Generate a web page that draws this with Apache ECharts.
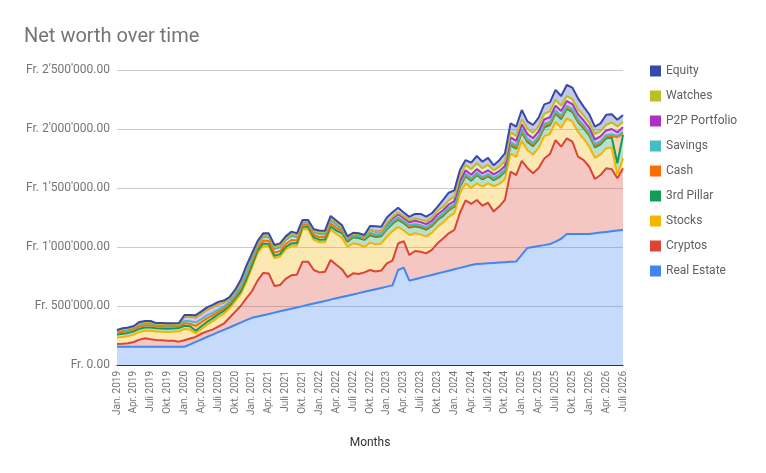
<!DOCTYPE html>
<html>
<head>
<meta charset="utf-8">
<title>Net worth over time</title>
<script src="https://cdn.jsdelivr.net/npm/echarts@6/dist/echarts.min.js"></script>
<style>
  html, body { margin: 0; padding: 0; background: #fff; }
  #chart { width: 766px; height: 473px; }
</style>
</head>
<body>
<div id="chart"></div>
<script>
// values in thousand CHF, one per month from Jan. 2019 to Juli 2026
var monthNames = ["Jan.", "Feb.", "März", "Apr.", "Mai", "Juni", "Juli", "Aug.", "Sept.", "Okt.", "Nov.", "Dez."];
var firstYear = 2019;
var monthCount = 91;

var realEstate = [
  155,155,155,155,155,155,155,155,155,155,155,155,
  155,175,196,216,237,257,278,298,318,339,359,380,
  400,411,422,433,444,455,466,477,488,499,510,521,
  532,543,554,565,576,587,598,609,620,631,642,653,
  664,675,805,825,715,727,739,751,763,775,787,799,
  811,823,835,847,856,859,862,865,868,871,874,877,
  935,992,1000,1008,1016,1025,1045,1070,1110,1110,1110,1110,
  1110,1116,1122,1128,1134,1140,1144
];
var cryptos = [
  23,25,29,40,60,71,63,57,55,51,50,43,
  55,50,42,49,48,43,47,52,82,111,141,185,
  225,304,358,342,226,223,264,283,277,377,366,284,
  253,247,336,285,236,158,179,162,165,174,150,147,
  198,210,225,225,217,239,221,195,212,256,286,317,
  333,467,560,518,542,491,513,435,477,529,764,733,
  795,678,625,662,734,763,860,780,811,783,655,627,
  570,460,488,539,526,442,523
];
var stocks = [
  54,58,61,63,65,64,72,72,72,74,77,87,
  95,75,30,40,55,70,80,85,80,90,100,140,
  200,235,230,230,235,242,250,250,245,274,274,255,
  255,250,260,260,268,255,255,250,215,232,230,230,
  225,250,140,90,170,150,145,144,145,140,135,140,
  141,165,145,135,142,161,165,215,190,175,154,155,
  170,150,160,170,190,170,155,160,169,169,210,180,
  170,180,175,169,183,28,84
];
var thirdPillar = [
  27,27,27,27,28,28,28,28,28,28,28,28,
  28,28,22,24,25,25,25,24,22,22,22,22,
  22,20,20,20,20,20,20,21,21,22,22,22,
  22,23,24,30,38,45,50,55,60,62,62,62,
  62,62,62,62,62,60,60,58,58,58,56,56,
  56,56,60,62,70,62,60,51,58,62,70,68,
  72,70,70,72,75,75,71,75,80,82,84,88,
  95,88,85,85,85,100,198
];
var cash = [
  14,15,15,15,18,18,18,15,16,16,15,15,
  20,22,42,35,30,25,20,18,16,16,25,30,
  30,25,25,26,26,26,25,28,24,18,18,20,
  22,22,24,22,18,12,10,10,10,12,12,10,
  10,10,10,10,10,10,10,10,10,10,10,10,
  10,10,10,10,10,10,10,10,10,10,12,12,
  12,12,12,12,12,12,12,12,12,12,12,12,
  12,12,12,12,12,220,12
];
var savings = [
  8,12,12,11,20,18,18,10,11,11,10,9,
  20,20,28,25,25,22,20,18,15,15,18,20,
  20,28,30,32,32,32,32,34,30,18,18,22,
  25,24,28,25,18,10,8,8,8,10,10,8,
  10,10,10,10,10,10,10,10,10,10,10,10,
  10,10,10,10,10,10,10,10,10,10,15,15,
  15,15,15,15,15,15,15,15,15,15,15,15,
  15,15,15,15,15,12,15
];
var p2p = [
  8,9,9,9,9,9,9,9,9,9,9,9,
  40,42,42,45,48,48,45,35,28,28,40,45,
  30,10,12,12,12,12,12,14,12,10,10,12,
  14,13,18,18,16,12,12,12,14,24,25,22,
  25,26,26,25,26,26,26,26,26,27,27,28,
  28,28,30,30,30,30,30,30,30,30,40,40,
  40,40,40,40,40,40,40,40,40,40,40,40,
  40,40,40,40,45,30,40
];
var watches = [
  0,0,0,0,0,0,0,0,0,0,0,0,
  0,0,0,0,0,0,0,0,0,0,0,0,
  0,0,0,0,0,0,0,0,0,0,0,0,
  0,0,0,0,0,0,0,0,0,0,0,0,
  10,12,14,15,17,19,21,23,26,29,32,35,
  38,42,45,48,50,45,45,34,38,40,42,42,
  44,45,45,46,48,50,50,46,42,42,43,43,
  43,45,45,48,55,50,45
];
var equity = [
  8,10,10,10,10,10,10,9,9,9,9,9,
  11,12,20,20,20,20,20,16,14,15,15,18,
  18,17,19,21,22,21,21,23,19,11,11,14,
  17,16,19,20,16,11,9,10,10,33,44,40,
  46,40,41,30,28,39,48,40,36,35,57,65,
  53,52,42,55,61,55,60,42,55,67,77,78,
  78,63,67,71,79,76,83,82,94,97,91,75,
  70,64,66,84,70,56,58
];

var months = [];
for (var m = 0; m < monthCount; m++) {
  months.push(monthNames[m % 12] + " " + (firstYear + Math.floor(m / 12)));
}

// thousands -> "Fr. 2'500'000.00"
function chf(v) {
  var s = String(Math.round(v * 1000)).replace(/\B(?=(\d{3})+(?!\d))/g, "'");
  return "Fr. " + s + ".00";
}

var layers = [
  ["Real Estate", realEstate, "#4285f4"],
  ["Cryptos", cryptos, "#db4437"],
  ["Stocks", stocks, "#f4b400"],
  ["3rd Pillar", thirdPillar, "#0f9d58"],
  ["Cash", cash, "#ff6d01"],
  ["Savings", savings, "#46bdc6"],
  ["P2P Portfolio", p2p, "#ab30c4"],
  ["Watches", watches, "#bdbd24"],
  ["Equity", equity, "#3949ab"]
];

var series = [];
var legendNames = [];
for (var i = 0; i < layers.length; i++) {
  series.push({
    name: layers[i][0],
    type: "line",
    stack: "total",
    data: layers[i][1],
    symbol: "none",
    itemStyle: { color: layers[i][2] },
    lineStyle: { width: 2, color: layers[i][2] },
    areaStyle: { color: layers[i][2], opacity: 0.3 },
    emphasis: { disabled: true }
  });
  legendNames.unshift(layers[i][0]);
}

var myChart = echarts.init(document.getElementById("chart"));

var option = {
  animation: false,
  textStyle: { fontFamily: "Roboto" },
  title: {
    text: "Net worth over time",
    left: 19,
    top: 22,
    textStyle: { fontSize: 20, fontWeight: "normal", color: "#757575", fontFamily: "Roboto" }
  },
  legend: {
    data: legendNames,
    orient: "vertical",
    left: 645,
    top: 60,
    icon: "rect",
    itemWidth: 11,
    itemHeight: 11,
    itemGap: 13,
    textStyle: { fontSize: 12, color: "#616161", fontFamily: "Roboto" }
  },
  grid: { left: 117, right: 143, top: 70, bottom: 108 },
  xAxis: {
    type: "category",
    data: months,
    boundaryGap: false,
    name: "Months",
    nameLocation: "middle",
    nameGap: 72,
    nameTextStyle: { fontSize: 12, color: "#333", fontFamily: "Roboto" },
    axisLine: { lineStyle: { color: "#333", width: 1 } },
    axisTick: { show: false },
    axisLabel: { interval: 2, rotate: 90, fontSize: 10, color: "#757575", margin: 6, fontFamily: "Roboto" }
  },
  yAxis: {
    type: "value",
    min: 0,
    max: 2500,
    interval: 500,
    axisLine: { show: false },
    axisTick: { show: false },
    splitLine: { lineStyle: { color: "#cccccc" } },
    axisLabel: { formatter: chf, fontSize: 12, color: "#757575", margin: 7, fontFamily: "Roboto" }
  },
  series: series
};

myChart.setOption(option);
</script>
</body>
</html>
